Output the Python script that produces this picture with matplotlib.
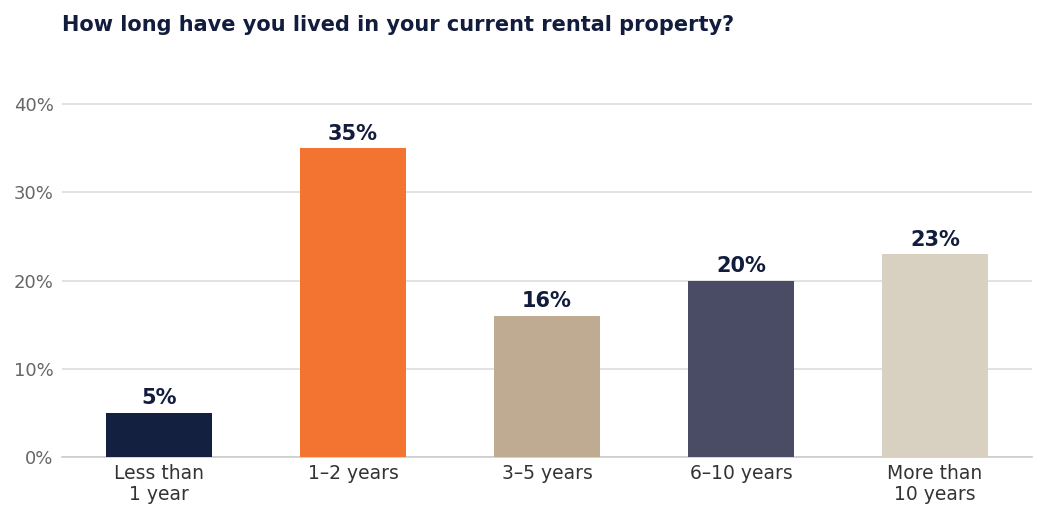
import matplotlib
matplotlib.use("Agg")
import matplotlib.pyplot as plt
from matplotlib.ticker import PercentFormatter

# Dados
categorias = ["Less than\n1 year", "1–2 years", "3–5 years", "6–10 years", "More than\n10 years"]
valores = [5, 35, 16, 20, 23]
cores = ["#13203F", "#F37430", "#BEAB92", "#4A4B65", "#D8D1C1"]

fig = plt.figure(figsize=(10.47, 5.2), dpi=100)
ax = fig.add_axes([0.0592, 0.1212, 0.9265, 0.7634])

x = range(len(categorias))
barras = ax.bar(x, valores, width=0.55, color=cores, zorder=3)

for b, v in zip(barras, valores):
    ax.text(b.get_x() + b.get_width() / 2, v + 0.5, f"{v}%", ha="center", va="bottom",
            fontsize=15, fontweight="bold", color="#121C3C")

ax.set_xlim(-0.5, 4.5)
ax.set_ylim(0, 45)
ax.set_yticks([0, 10, 20, 30, 40])
ax.yaxis.set_major_formatter(PercentFormatter(decimals=0))
ax.set_xticks(list(x))
ax.set_xticklabels(categorias, fontsize=13.5, color="#333333", linespacing=1.15)
ax.tick_params(axis="y", labelsize=13, labelcolor="#666666", length=0, pad=6)
ax.tick_params(axis="x", length=0, pad=5)
ax.grid(axis="y", color="#DDDDDD", linewidth=1.2, zorder=0)
for s in ["top", "right", "left"]:
    ax.spines[s].set_visible(False)
ax.spines["bottom"].set_color("#CCCCCC")
ax.spines["bottom"].set_linewidth(1.2)

fig.text(0.0592, 0.952, "How long have you lived in your current rental property?",
         fontsize=15, fontweight="bold", color="#121C3C", ha="left", va="center")

fig.savefig("out.png", dpi=100)
